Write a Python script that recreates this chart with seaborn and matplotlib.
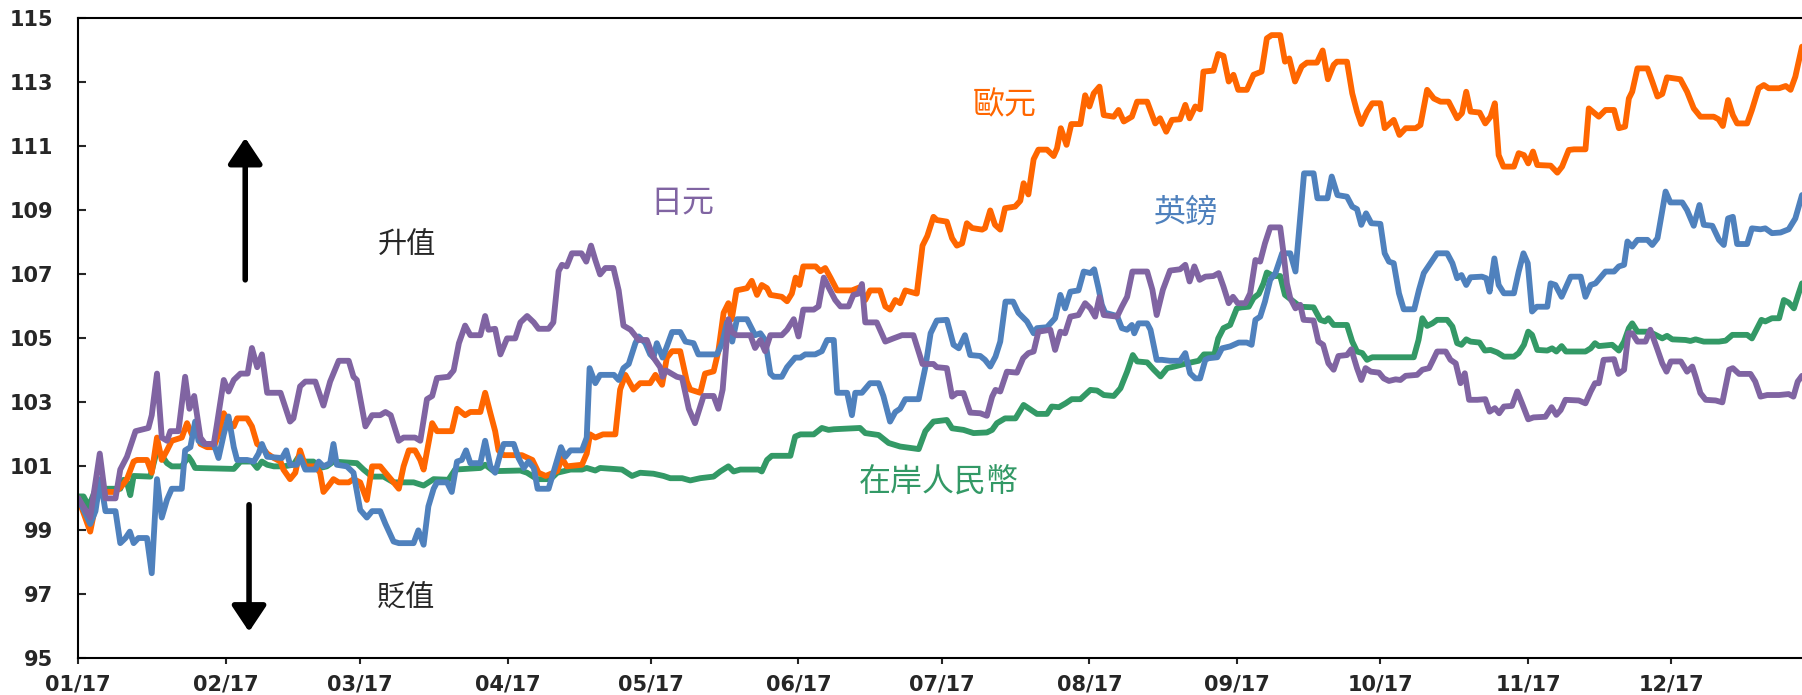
import pandas as pd
import matplotlib.pyplot as plt
import matplotlib.dates as mdates
import seaborn as sns

# index values (x = days since 1 Jan 2017)
eur_days = [0, 2.5, 3.9, 4.6, 5.7, 7.8, 9.2, 10.2, 11.6, 12.3, 14.4, 15.4, 16.5, 17.5, 18.6, 19.6, 21.7, 22.8, 23.8, 24.9,
            25.6, 27.0, 28.4, 29.4, 30.5, 31.5, 32.6, 33.3, 35.4, 36.4, 37.5, 38.5, 39.6, 41.0, 42.4, 43.0, 44.4, 45.5, 46.5, 47.6,
            49.7, 50.7, 51.4, 52.5, 53.5, 54.6, 56.7, 57.7, 59.1, 60.5, 61.6, 63.3, 64.4, 66.1, 67.2, 68.2, 69.3, 70.6, 71.7, 72.4,
            74.2, 75.2, 78.3, 79.4, 81.1, 82.2, 84.3, 85.3, 86.4, 87.4, 88.1, 89.2, 93.0, 95.2, 96.5, 98.0, 100.4, 101.4, 102.4, 105.6,
            106.6, 107.3, 108.4, 110.0, 112.6, 113.6, 114.7, 116.4, 117.8, 119.9, 121.0, 122.4, 123.4, 124.5, 126.2, 127.6, 128.3, 130.4, 131.4, 133.2,
            134.2, 135.3, 136.3, 137.0, 138.0, 140.2, 141.2, 142.3, 143.3, 144.4, 145.1, 147.5, 148.6, 149.6, 150.4, 151.2, 152.0, 154.6, 155.6, 156.6,
            157.7, 159.1, 160.1, 162.2, 163.9, 165.0, 166.0, 168.1, 169.2, 170.2, 171.3, 172.3, 173.4, 175.8, 177.0, 178.0, 179.3, 180.0, 182.1, 183.2,
            184.2, 185.3, 186.3, 187.4, 189.5, 190.1, 191.2, 192.2, 193.3, 194.3, 196.4, 197.5, 198.2, 199.2, 200.3, 201.3, 203.1, 204.5, 205.2, 206.0,
            207.2, 208.2, 210.1, 211.1, 212.0, 212.9, 214.1, 215.0, 217.1, 218.1, 219.2, 220.9, 222.0, 224.1, 225.8, 226.8, 228.1, 229.3, 231.0, 232.1,
            233.0, 234.2, 235.2, 235.9, 238.0, 239.0, 240.1, 241.2, 242.2, 243.2, 245.0, 246.4, 248.1, 249.2, 250.2, 252.0, 253.0, 253.9, 255.1, 256.5,
            257.6, 259.7, 260.9, 262.0, 263.2, 263.9, 266.0, 267.1, 268.1, 269.0, 270.2, 271.3, 273.0, 273.9, 275.8, 277.0, 278.3, 280.4, 281.4, 282.8,
            284.2, 285.6, 287.3, 289.1, 290.1, 291.0, 291.9, 293.8, 295.0, 296.1, 297.0, 297.8, 298.8, 301.0, 302.0, 303.1, 304.0, 305.0, 305.9, 308.7,
            310.1, 311.1, 312.5, 313.6, 316.0, 316.7, 318.8, 320.2, 322.0, 323.0, 324.3, 325.1, 325.8, 326.9, 329.0, 330.0, 331.1, 332.1, 333.1, 335.9,
            337.3, 338.7, 340.1, 342.9, 343.9, 344.8, 345.9, 346.9, 347.8, 349.9, 350.9, 352.3, 353.4, 354.4, 356.6, 358.0, 359.0, 360.0, 361.4]
eur_vals = [100.0, 98.96, 100.0, 100.5, 100.2, 100.2, 100.4, 100.6, 101.15, 101.2, 101.2, 100.8, 101.9, 101.2, 101.5, 101.8, 101.9, 102.35, 102.0, 102.1,
            101.7, 101.6, 101.6, 102.0, 102.66, 102.4, 102.25, 102.5, 102.5, 102.25, 101.7, 101.6, 101.4, 101.26, 101.15, 100.9, 100.6, 100.8, 101.5, 101.0,
            101.0, 100.8, 100.2, 100.4, 100.6, 100.5, 100.5, 100.6, 100.5, 99.95, 101.0, 101.0, 100.8, 100.5, 100.3, 101.0, 101.5, 101.5, 101.2, 100.9,
            102.35, 102.1, 102.1, 102.8, 102.6, 102.7, 102.7, 103.3, 102.66, 102.1, 101.5, 101.35, 101.35, 101.2, 100.8, 100.7, 100.85, 101.26, 101.0, 101.05,
            101.4, 102.0, 101.9, 102.0, 102.0, 103.4, 103.86, 103.4, 103.6, 103.6, 103.86, 103.55, 104.4, 104.6, 104.6, 103.65, 103.4, 103.3, 103.9, 103.97,
            104.6, 105.8, 106.1, 105.6, 106.5, 106.57, 106.8, 106.36, 106.67, 106.57, 106.36, 106.3, 106.16, 106.4, 106.9, 106.67, 107.25, 107.25, 107.1, 107.2,
            106.9, 106.5, 106.5, 106.5, 106.6, 106.2, 106.5, 106.5, 106.0, 105.9, 106.2, 106.1, 106.5, 106.4, 107.9, 108.2, 108.8, 108.7, 108.65, 108.13,
            107.9, 107.97, 108.6, 108.45, 108.4, 108.45, 109.0, 108.55, 108.4, 109.07, 109.12, 109.3, 109.85, 109.5, 110.6, 110.9, 110.9, 110.7, 110.94, 111.57,
            111.05, 111.7, 111.7, 112.6, 112.25, 112.66, 112.87, 111.98, 111.93, 112.14, 111.78, 111.93, 112.4, 112.4, 111.72, 111.88, 111.46, 111.83, 111.85, 112.3,
            111.88, 112.25, 112.16, 113.34, 113.37, 113.89, 113.83, 113.03, 113.24, 112.77, 112.77, 113.24, 113.34, 114.38, 114.48, 114.48, 113.65, 113.75, 113.03, 113.5,
            113.62, 113.62, 114.0, 113.1, 113.55, 113.65, 113.65, 112.66, 112.09, 111.7, 112.09, 112.35, 112.35, 111.57, 111.83, 111.36, 111.57, 111.57, 111.67, 112.77,
            112.5, 112.4, 112.4, 111.88, 112.04, 112.71, 112.09, 112.06, 111.72, 111.93, 112.35, 110.73, 110.37, 110.37, 110.79, 110.73, 110.47, 110.84, 110.42, 110.4,
            110.18, 110.37, 110.89, 110.91, 110.91, 112.19, 111.93, 112.14, 112.14, 111.57, 111.62, 112.5, 112.71, 113.44, 113.44, 113.03, 112.56, 112.64, 113.16, 113.1,
            112.71, 112.19, 111.93, 111.93, 111.85, 111.64, 112.45, 111.98, 111.72, 111.72, 112.14, 112.82, 112.92, 112.82, 112.82, 112.89, 112.77, 113.18, 114.12]

gbp_days = [0, 2.5, 3.6, 4.6, 5.7, 7.8, 8.8, 9.9, 10.8, 11.6, 12.6, 14.4, 15.4, 16.5, 17.5, 18.6, 19.6, 21.7, 22.4, 23.5,
            24.5, 25.2, 26.3, 28.4, 29.4, 30.5, 31.5, 32.6, 33.3, 35.4, 36.8, 37.8, 38.5, 39.6, 42.7, 43.6, 44.4, 45.8, 46.5, 47.6,
            49.7, 50.4, 51.4, 52.8, 53.5, 54.2, 56.3, 57.7, 59.1, 60.5, 61.6, 63.3, 64.4, 66.1, 67.2, 70.3, 71.3, 72.4, 73.4, 74.5,
            75.2, 77.3, 78.3, 79.4, 80.4, 81.3, 82.2, 84.3, 85.3, 86.4, 87.4, 88.5, 89.2, 91.3, 92.3, 93.4, 94.4, 95.5, 96.3, 98.6,
            100.0, 101.2, 102.1, 103.2, 105.6, 106.6, 107.2, 108.4, 109.4, 112.3, 113.3, 114.3, 115.4, 116.8, 117.5, 118.9, 119.9, 120.6, 121.3, 122.5,
            123.4, 124.5, 126.2, 127.3, 129.0, 130.0, 132.5, 133.9, 135.0, 136.0, 137.1, 138.1, 140.2, 141.9, 143.0, 144.0, 145.1, 145.8, 147.5, 148.6,
            150.3, 151.4, 152.4, 154.5, 155.9, 157.0, 158.4, 159.1, 161.2, 162.2, 162.9, 164.3, 166.0, 167.8, 168.8, 170.2, 171.3, 172.3, 173.4, 176.2,
            177.6, 178.7, 180.0, 182.1, 183.5, 184.6, 185.9, 187.0, 189.1, 190.1, 191.2, 192.3, 193.3, 194.4, 196.0, 197.1, 198.9, 200.3, 201.0, 203.1,
            204.8, 205.9, 206.9, 208.0, 209.7, 210.8, 212.2, 213.0, 213.9, 214.6, 215.3, 217.8, 218.8, 219.9, 220.9, 221.4, 222.3, 224.1, 224.8, 226.1,
            227.2, 228.9, 231.0, 232.1, 233.1, 234.2, 235.2, 236.3, 237.0, 238.8, 239.8, 241.5, 243.3, 245.0, 246.0, 246.8, 247.8, 248.8, 249.9, 251.0,
            252.4, 254.1, 255.2, 257.0, 259.0, 259.8, 261.9, 262.8, 264.0, 266.0, 267.1, 268.1, 269.0, 270.0, 271.1, 273.0, 273.9, 274.8, 275.8, 276.9,
            277.9, 280.1, 281.1, 282.1, 283.5, 284.9, 287.0, 288.1, 289.1, 290.0, 291.0, 291.9, 294.3, 295.2, 295.9, 296.9, 297.8, 298.9, 301.0, 302.0,
            303.0, 303.9, 304.8, 305.8, 308.0, 308.7, 309.7, 311.0, 312.9, 315.0, 316.0, 317.1, 318.1, 320.2, 322.0, 323.0, 324.1, 324.8, 325.8, 326.9,
            329.0, 330.0, 331.1, 332.0, 332.8, 333.8, 336.3, 337.3, 338.7, 339.9, 340.8, 342.6, 344.0, 345.0, 345.9, 346.9, 347.8, 349.9, 350.9, 352.7,
            353.7, 355.1, 356.9, 358.6, 360.0, 361.4]
gbp_vals = [100.0, 99.2, 99.6, 100.6, 99.6, 99.6, 98.6, 98.76, 98.96, 98.6, 98.76, 98.76, 97.66, 100.6, 99.4, 99.96, 100.3, 100.3, 101.5, 101.6,
            102.4, 101.8, 101.7, 101.7, 101.26, 102.0, 102.56, 101.6, 101.2, 101.2, 101.15, 101.4, 101.7, 101.3, 101.26, 101.5, 101.05, 101.05, 101.3, 100.9,
            100.9, 101.15, 101.0, 101.1, 101.7, 101.05, 101.0, 100.8, 99.64, 99.4, 99.6, 99.6, 99.2, 98.65, 98.6, 98.6, 99.0, 98.55, 99.75, 100.3,
            100.5, 100.5, 100.2, 101.15, 101.2, 101.5, 101.1, 101.1, 101.8, 101.0, 100.8, 101.4, 101.7, 101.7, 101.26, 100.95, 101.15, 100.95, 100.3, 100.3,
            101.0, 101.6, 101.3, 101.5, 101.5, 101.9, 104.07, 103.6, 103.86, 103.86, 103.7, 104.07, 104.2, 104.85, 105.06, 104.85, 104.5, 104.4, 104.85, 104.4,
            104.75, 105.2, 105.2, 104.9, 104.85, 104.5, 104.5, 104.5, 104.85, 105.5, 104.9, 105.6, 105.6, 105.1, 105.16, 104.95, 103.9, 103.8, 103.8, 104.1,
            104.4, 104.4, 104.5, 104.5, 104.6, 104.95, 104.95, 103.3, 103.3, 102.6, 103.3, 103.3, 103.6, 103.6, 103.2, 102.4, 102.7, 102.8, 103.1, 103.1,
            104.1, 105.16, 105.56, 105.58, 104.8, 104.69, 105.1, 104.48, 104.45, 104.33, 104.12, 104.43, 104.9, 106.15, 106.15, 105.8, 105.53, 105.16, 105.32, 105.35,
            105.63, 106.36, 105.94, 106.46, 106.5, 107.09, 107.04, 107.16, 106.57, 106.05, 105.8, 105.7, 105.32, 105.27, 105.42, 105.16, 105.47, 105.47, 105.27, 104.33,
            104.33, 104.3, 104.3, 104.54, 103.91, 103.75, 103.75, 104.33, 104.38, 104.41, 104.69, 104.75, 104.87, 104.87, 104.8, 105.58, 105.68, 106.15, 106.83, 107.04,
            107.66, 107.66, 107.09, 110.16, 110.16, 109.38, 109.38, 110.06, 109.48, 109.43, 109.12, 109.04, 108.55, 108.91, 108.6, 108.58, 107.66, 107.4, 107.35, 106.41,
            105.91, 105.91, 106.52, 107.04, 107.35, 107.66, 107.66, 107.35, 106.88, 106.98, 106.67, 106.91, 106.93, 106.88, 106.46, 107.5, 106.67, 106.41, 106.41, 107.09,
            107.66, 107.35, 105.84, 105.99, 105.99, 106.72, 106.67, 106.3, 106.93, 106.93, 106.3, 106.67, 106.72, 107.09, 107.09, 107.25, 107.3, 108.03, 107.87, 108.08,
            108.08, 107.92, 108.13, 108.91, 109.59, 109.25, 109.25, 109.01, 108.52, 109.17, 108.55, 108.52, 108.08, 107.92, 108.75, 108.8, 107.95, 107.95, 108.44, 108.41,
            108.44, 108.29, 108.31, 108.41, 108.75, 109.48]

jpy_days = [0, 2.5, 4.5, 5.7, 7.8, 8.8, 10.2, 12.0, 14.7, 15.4, 16.5, 17.5, 18.6, 19.3, 21.0, 22.4, 23.3, 24.3, 25.6, 26.6,
            28.4, 29.0, 30.5, 31.5, 32.6, 34.0, 35.5, 36.4, 37.5, 38.5, 39.6, 42.4, 44.4, 45.1, 46.5, 47.6, 49.7, 51.4, 52.8, 54.6,
            56.7, 57.7, 58.4, 60.2, 61.6, 63.3, 64.4, 65.5, 67.2, 68.2, 70.6, 71.7, 73.1, 74.2, 75.2, 77.6, 78.7, 79.8, 81.1, 82.2,
            84.3, 85.3, 86.0, 87.4, 88.5, 89.9, 91.6, 92.7, 94.1, 95.5, 96.5, 98.6, 99.6, 100.7, 101.4, 102.4, 103.5, 105.5, 106.5, 107.5,
            108.4, 109.4, 110.5, 112.2, 113.3, 114.3, 115.8, 117.5, 119.2, 120.6, 122.0, 122.5, 123.2, 125.5, 126.6, 128.0, 129.3, 131.1, 133.2, 134.2,
            135.1, 136.3, 137.0, 138.0, 140.9, 141.9, 143.0, 144.0, 145.1, 147.5, 148.6, 150.0, 151.0, 152.0, 154.2, 155.2, 156.3, 157.3, 158.7, 159.8,
            161.5, 162.5, 163.6, 164.3, 165.0, 167.4, 169.2, 170.9, 172.7, 175.1, 177.0, 178.0, 179.3, 180.0, 182.1, 183.2, 184.2, 185.6, 187.0, 189.1,
            190.5, 191.6, 192.3, 193.3, 194.7, 196.8, 198.1, 199.2, 200.3, 201.3, 203.8, 204.8, 205.9, 206.9, 208.0, 209.7, 211.1, 212.2, 213.2, 214.1,
            215.0, 217.8, 218.8, 219.9, 221.0, 224.1, 225.2, 226.1, 227.4, 228.9, 231.0, 232.1, 233.0, 234.0, 235.1, 236.3, 238.0, 239.1, 240.1, 241.2,
            242.1, 243.1, 244.7, 245.7, 246.8, 247.8, 248.8, 249.9, 252.0, 252.7, 253.4, 254.1, 255.2, 256.2, 256.9, 259.0, 260.0, 261.0, 262.1, 263.2,
            264.2, 266.0, 266.9, 268.1, 269.0, 269.9, 271.0, 272.7, 273.7, 274.8, 276.2, 277.2, 278.3, 280.7, 281.8, 283.2, 283.9, 284.9, 286.7, 287.7,
            288.8, 289.8, 290.7, 291.6, 293.3, 295.0, 295.9, 297.0, 297.9, 298.9, 300.6, 301.7, 302.7, 304.0, 305.1, 307.6, 308.9, 309.9, 310.8, 311.8,
            314.6, 316.0, 317.1, 318.0, 318.8, 319.8, 322.0, 322.9, 324.1, 325.0, 325.8, 326.9, 328.6, 329.6, 331.0, 332.1, 333.0, 333.9, 336.0, 337.3,
            338.4, 339.1, 340.1, 341.2, 343.3, 344.7, 346.1, 346.9, 348.2, 350.6, 351.6, 352.7, 354.1, 356.6, 358.6, 359.6, 360.5, 361.4]
jpy_vals = [100.0, 99.4, 101.4, 100.0, 100.0, 100.9, 101.3, 102.1, 102.2, 102.6, 103.9, 101.9, 101.8, 102.1, 102.1, 103.8, 102.8, 103.2, 101.9, 101.7,
            101.7, 102.25, 103.7, 103.34, 103.7, 103.9, 103.9, 104.7, 104.1, 104.5, 103.3, 103.3, 102.4, 102.5, 103.5, 103.65, 103.65, 102.9, 103.65, 104.3,
            104.3, 103.8, 103.7, 102.25, 102.6, 102.6, 102.7, 102.6, 101.8, 101.9, 101.9, 101.8, 103.1, 103.2, 103.76, 103.8, 104.0, 104.85, 105.4, 105.1,
            105.1, 105.7, 105.27, 105.3, 104.5, 105.0, 105.0, 105.5, 105.7, 105.5, 105.3, 105.3, 105.5, 107.1, 107.3, 107.25, 107.66, 107.66, 107.4, 107.9,
            107.45, 107.0, 107.2, 107.2, 106.5, 105.4, 105.27, 104.95, 104.95, 104.4, 104.1, 103.8, 104.0, 103.8, 103.76, 102.8, 102.35, 103.2, 103.2, 102.8,
            103.4, 105.6, 105.2, 105.1, 105.1, 104.7, 104.95, 104.6, 105.1, 105.1, 105.27, 105.6, 105.06, 105.9, 105.9, 106.0, 106.9, 106.6, 106.2, 106.0,
            106.0, 106.36, 106.4, 106.7, 105.5, 105.5, 104.9, 105.0, 105.1, 105.1, 104.2, 104.2, 104.2, 104.1, 104.07, 103.18, 103.29, 103.29, 102.68, 102.66,
            102.58, 103.18, 103.39, 103.34, 103.96, 103.93, 104.38, 104.54, 104.59, 105.21, 105.27, 104.64, 105.21, 105.16, 105.68, 105.73, 106.1, 105.94, 105.68, 106.29,
            105.73, 105.68, 105.99, 106.3, 107.09, 107.09, 106.52, 105.73, 106.52, 107.12, 107.16, 107.3, 106.78, 107.25, 106.83, 106.93, 106.95, 107.04, 106.62, 106.1,
            106.3, 106.1, 106.1, 106.41, 107.45, 107.4, 107.97, 108.47, 108.47, 107.66, 106.72, 106.26, 105.94, 106.05, 105.58, 105.56, 104.9, 104.8, 104.22, 104.02,
            104.45, 104.48, 104.66, 104.07, 103.7, 104.07, 103.96, 103.93, 103.75, 103.67, 103.72, 103.7, 103.83, 103.86, 104.02, 104.07, 104.28, 104.59, 104.59, 104.33,
            104.22, 103.6, 103.91, 103.08, 103.08, 103.1, 102.71, 102.82, 102.66, 102.87, 102.89, 103.34, 102.97, 102.47, 102.53, 102.55, 102.85, 102.61, 102.76, 103.08,
            103.06, 102.97, 103.34, 103.6, 103.6, 104.33, 104.35, 103.89, 104.02, 105.16, 105.16, 104.9, 104.9, 105.27, 104.69, 104.22, 103.96, 104.28, 104.28, 103.96,
            104.12, 103.8, 103.29, 103.08, 103.06, 103.0, 104.02, 104.07, 103.89, 103.89, 103.65, 103.18, 103.23, 103.23, 103.26, 103.18, 103.65, 103.83]

cny_days = [0, 1.1, 2.2, 3.6, 4.3, 8.8, 9.5, 10.2, 10.9, 11.6, 15.1, 16.5, 17.2, 18.6, 19.6, 21.7, 23.1, 23.8, 24.5, 32.6,
            34.0, 36.4, 37.5, 38.5, 39.6, 41.0, 43.0, 45.1, 46.2, 47.2, 49.3, 50.7, 52.1, 53.5, 58.4, 59.8, 61.6, 64.0, 66.1, 70.3,
            72.4, 74.5, 77.6, 79.0, 84.3, 85.3, 87.1, 92.7, 94.1, 96.2, 99.0, 100.4, 103.2, 105.6, 106.6, 108.4, 109.4, 114.0, 116.1, 117.8,
            120.6, 122.7, 124.1, 126.6, 128.3, 130.4, 133.2, 134.6, 136.3, 137.4, 138.8, 142.6, 143.3, 144.4, 145.4, 149.3, 150.3, 151.4, 154.2, 155.9,
            157.3, 158.4, 163.9, 165.0, 167.8, 169.9, 172.3, 176.2, 177.6, 179.3, 182.1, 183.2, 185.6, 187.7, 190.5, 191.6, 192.6, 194.3, 196.5, 198.2,
            199.2, 201.0, 203.1, 204.1, 205.6, 207.0, 208.3, 210.1, 212.2, 213.6, 215.0, 217.1, 218.5, 219.9, 221.1, 222.0, 224.1, 225.5, 226.9, 228.3,
            229.8, 232.4, 234.9, 236.0, 238.2, 239.0, 240.1, 241.5, 242.9, 243.9, 245.4, 246.4, 247.5, 248.5, 249.2, 250.6, 252.0, 253.0, 254.8, 256.2,
            259.0, 260.4, 261.4, 262.1, 263.2, 266.0, 267.1, 268.1, 269.2, 270.2, 271.3, 280.0, 281.0, 281.8, 282.8, 283.9, 284.9, 287.0, 288.1, 289.1,
            290.0, 291.0, 291.9, 293.8, 294.9, 296.1, 297.5, 298.9, 301.0, 302.0, 303.1, 304.0, 304.8, 305.9, 308.0, 309.0, 309.9, 311.0, 311.9, 316.0,
            317.1, 318.0, 318.8, 321.6, 323.0, 324.1, 325.1, 325.8, 326.9, 329.3, 330.7, 332.1, 333.1, 334.2, 337.0, 338.0, 339.1, 340.8, 344.0, 345.4,
            346.8, 349.9, 350.9, 352.0, 352.9, 353.7, 355.1, 356.6, 357.6, 358.6, 359.7, 360.7, 361.4]
cny_vals = [100.06, 100.06, 99.75, 100.27, 100.3, 100.3, 100.58, 100.5, 100.1, 100.7, 100.68, 101.5, 101.4, 101.1, 101.0, 101.0, 101.3, 101.15, 100.95, 100.92,
            101.15, 101.15, 100.95, 101.15, 101.05, 101.0, 101.0, 101.05, 101.3, 101.15, 101.15, 100.95, 101.0, 101.15, 101.1, 100.9, 100.68, 100.68, 100.5, 100.5,
            100.4, 100.6, 100.58, 100.9, 100.95, 101.05, 100.85, 100.87, 100.8, 100.6, 100.6, 100.8, 100.9, 100.9, 100.95, 100.87, 100.95, 100.9, 100.7, 100.8,
            100.77, 100.7, 100.63, 100.63, 100.56, 100.63, 100.68, 100.84, 101.0, 100.84, 100.9, 100.9, 100.84, 101.2, 101.33, 101.33, 101.93, 102.0, 102.0, 102.2,
            102.14, 102.16, 102.2, 102.04, 101.98, 101.73, 101.62, 101.54, 102.1, 102.4, 102.45, 102.19, 102.14, 102.04, 102.06, 102.14, 102.35, 102.5, 102.5, 102.92,
            102.82, 102.64, 102.64, 102.87, 102.85, 102.97, 103.1, 103.1, 103.39, 103.37, 103.23, 103.2, 103.44, 103.96, 104.48, 104.28, 104.25, 104.02, 103.81, 104.07,
            104.12, 104.22, 104.3, 104.5, 104.5, 105.0, 105.32, 105.42, 105.94, 105.97, 105.99, 106.26, 106.39, 106.72, 107.06, 106.95, 106.95, 106.36, 106.15, 105.99,
            105.97, 105.58, 105.53, 105.63, 105.42, 105.42, 104.9, 104.59, 104.54, 104.33, 104.41, 104.41, 104.95, 105.63, 105.39, 105.47, 105.58, 105.58, 105.37, 104.85,
            104.8, 104.97, 104.9, 104.87, 104.62, 104.64, 104.56, 104.43, 104.43, 104.54, 104.8, 105.21, 105.11, 104.64, 104.62, 104.69, 104.59, 104.76, 104.59, 104.59,
            104.69, 104.85, 104.76, 104.8, 104.62, 104.9, 105.32, 105.47, 105.21, 105.21, 105.11, 105.0, 105.08, 104.97, 104.95, 104.92, 104.97, 104.9, 104.9, 104.93,
            105.11, 105.11, 105.0, 105.32, 105.58, 105.53, 105.63, 105.63, 106.2, 106.12, 105.94, 106.41, 106.72]

series_names = ["在岸人民幣", "歐元", "英鎊", "日元"]
series_colors = ["#339966", "#FF6600", "#4F81BD", "#8064A2"]

start = pd.Timestamp("2017-01-01")


def to_dates(days):
    return start + pd.to_timedelta(days, unit="D")


frames = []
for name, days, vals in zip(series_names,
                            [cny_days, eur_days, gbp_days, jpy_days],
                            [cny_vals, eur_vals, gbp_vals, jpy_vals]):
    frames.append(pd.DataFrame({"date": to_dates(days), "value": vals, "series": name}))
df = pd.concat(frames, ignore_index=True)

sns.set_theme(style="white")
plt.rcParams['font.family'] = ['DejaVu Sans']

fig = plt.figure(figsize=(18.02, 6.95), dpi=100)
ax = fig.add_axes([0.04345, 0.0528, 0.95655, 0.9206])

sns.lineplot(data=df, x="date", y="value", hue="series", hue_order=series_names,
             palette=dict(zip(series_names, series_colors)), estimator=None,
             sort=False, legend=False, linewidth=4.2, ax=ax)

ax.set_xlim(start, start + pd.Timedelta(days=361.4))
ax.set_ylim(95, 115)
ax.set_yticks(range(95, 116, 2))
ax.set_xticks(pd.date_range("2017-01-01", "2017-12-01", freq="MS"))
ax.xaxis.set_major_formatter(mdates.DateFormatter("%m/%y"))
ax.set_xlabel("")
ax.set_ylabel("")

ax.tick_params(axis="y", direction="in", length=6, width=1.5, pad=18, labelsize=15, left=True)
ax.tick_params(axis="x", direction="out", length=4, width=1.5, pad=8, labelsize=15, bottom=True)
for lab in ax.get_xticklabels() + ax.get_yticklabels():
    lab.set_fontweight("bold")

for side in ["left", "bottom", "top"]:
    ax.spines[side].set_color("black")
    ax.spines[side].set_linewidth(1.5)
ax.spines["right"].set_visible(False)

# series labels
cjk = ["Noto Sans CJK TC", "DejaVu Sans"]
label_pos = {"歐元": (194.3, 112.3), "英鎊": (232.3, 108.92), "日元": (126.6, 109.23), "在岸人民幣": (180.5, 100.48)}
for name, color in zip(series_names, series_colors):
    d, v = label_pos[name]
    ax.text(to_dates([d])[0], v, name, color=color, fontsize=23, family=cjk, ha="center", va="center")

# appreciation / depreciation arrows
arrow = dict(arrowstyle="-|>,head_length=0.45,head_width=0.3", lw=4, color="black",
             mutation_scale=35, shrinkA=0, shrinkB=0)
ax.annotate("", xy=(to_dates([35.0])[0], 111.27), xytext=(to_dates([35.0])[0], 106.83), arrowprops=arrow)
ax.annotate("", xy=(to_dates([35.8])[0], 95.83), xytext=(to_dates([35.8])[0], 99.8), arrowprops=arrow)
ax.text(to_dates([68.8])[0], 107.92, "升值", fontsize=21, family=cjk, ha="center", va="center")
ax.text(to_dates([68.8])[0], 96.86, "貶值", fontsize=21, family=cjk, ha="center", va="center")

fig.savefig("out.png", dpi=100)
